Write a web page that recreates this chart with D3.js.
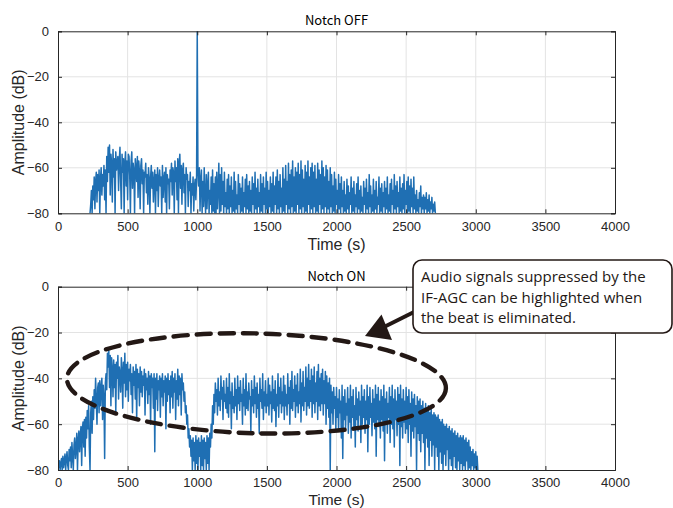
<!DOCTYPE html>
<html>
<head>
<meta charset="utf-8">
<script src="https://cdn.jsdelivr.net/npm/d3@7"></script>
<style>
  html, body { margin: 0; padding: 0; background: #fff; }
  svg { display: block; }
</style>
</head>
<body>
<svg id="chart" width="673" height="508"></svg>
<script>
// ---------------- DATA ----------------
const xTicks = [0, 500, 1000, 1500, 2000, 2500, 3000, 3500, 4000];
const yTicks = [0, -20, -40, -60, -80];
const titles = ["Notch OFF", "Notch ON"];
const xLabel = "Time (s)";
const yLabel = "Amplitude (dB)";
const annotationLines = ["Audio signals suppressed by the", "IF-AGC can be highlighted when", "the beat is eliminated."];

// sampling grid (seconds)
const offStart = 230, onStart = 0, sampleStep = 5;

// Notch OFF amplitude (dB), one value per 5 s starting at 230 s
const notchOff = [
-80,-76,-70,-80,-68,-74,-64,-78,-66,-62,-75,-63,-70,-61,-80,-65,-60,-72,-63,-68,
-59,-74,-61,-80,-55,-66,-51,-62,-50,-72,-54,-58,-75,-52,-64,-56,-80,-53,-61,-58,
-55,-70,-57,-51,-66,-78,-54,-62,-56,-80,-58,-53,-68,-57,-74,-54,-55,-63,-80,-57,
-53,-69,-58,-61,-80,-56,-60,-66,-55,-73,-57,-62,-78,-59,-56,-67,-61,-80,-62,-64,
-58,-71,-63,-76,-60,-65,-80,-64,-59,-69,-62,-75,-66,-61,-80,-63,-70,-60,-77,-65,
-61,-68,-64,-80,-59,-73,-65,-62,-75,-60,-80,-63,-67,-65,-78,-61,-66,-58,-72,-60,
-62,-80,-57,-66,-60,-74,-56,-80,-58,-54,-69,-59,-76,-61,-58,-71,-63,-80,-60,-65,
-63,-77,-66,-70,-62,-80,-67,-72,-64,-79,-68,-65,-74,-66,0,-62,-68,-60,-79,-65,
-61,-80,-66,-77,-60,-72,-80,-63,-78,-68,-62,-80,-70,-76,-64,-80,-61,-79,-67,-80,
-64,-80,-62,-78,-69,-58,-80,-63,-79,-60,-76,-66,-80,-62,-77,-71,-80,-65,-78,-63,
-80,-68,-77,-64,-80,-70,-79,-62,-80,-66,-78,-72,-80,-63,-76,-67,-80,-69,-79,-64,
-80,-71,-77,-65,-80,-63,-78,-68,-80,-66,-79,-70,-80,-64,-76,-67,-80,-62,-78,-69,
-80,-65,-77,-71,-80,-63,-79,-67,-80,-64,-76,-69,-80,-62,-78,-66,-80,-70,-77,-64,
-80,-67,-79,-62,-80,-68,-76,-64,-80,-61,-78,-66,-80,-63,-77,-69,-80,-60,-79,-65,
-80,-59,-76,-66,-80,-58,-78,-63,-80,-61,-77,-57,-80,-64,-79,-60,-80,-62,-76,-58,
-80,-63,-78,-57,-80,-61,-77,-65,-80,-59,-79,-62,-80,-57,-76,-64,-80,-60,-78,-58,
-80,-62,-77,-59,-80,-65,-79,-58,-80,-61,-76,-63,-80,-57,-78,-60,-80,-64,-77,-59,
-80,-61,-78,-66,-80,-60,-77,-63,-80,-68,-79,-62,-80,-65,-76,-70,-80,-63,-78,-67,
-80,-64,-77,-70,-80,-66,-79,-72,-80,-65,-78,-68,-80,-71,-76,-64,-80,-69,-79,-66,
-80,-72,-77,-67,-80,-64,-78,-70,-80,-68,-79,-73,-80,-66,-76,-69,-80,-65,-78,-71,
-80,-63,-77,-68,-80,-72,-79,-65,-80,-70,-78,-66,-80,-73,-76,-64,-80,-69,-79,-67,
-80,-71,-77,-66,-80,-69,-78,-64,-80,-72,-79,-67,-80,-65,-76,-70,-80,-63,-78,-68,
-80,-66,-77,-71,-80,-64,-79,-69,-80,-67,-78,-63,-80,-70,-76,-66,-80,-64,-79,-68,
-80,-65,-77,-69,-80,-64,-78,-72,-80,-70,-79,-74,-80,-71,-77,-68,-80,-73,-78,-72,
-80,-73,-78,-71,-80,-74,-79,-72,-80,-75,-78,-73,-80,-76,-79,-75,-80
];

// Notch ON amplitude (dB), one value per 5 s starting at 0 s
const notchOn = [
-80,-78,-76,-80,-77,-75,-80,-74,-79,-76,-73,-80,-75,-72,-78,-80,-71,-76,-70,-79,
-68,-74,-80,-69,-66,-75,-70,-64,-80,-67,-63,-72,-65,-61,-78,-62,-59,-70,-58,-74,
-57,-66,-54,-62,-52,-70,-80,-55,-50,-64,-48,-58,-45,-53,-40,-50,-60,-44,-42,-55,
-41,-52,-44,-40,-58,-43,-48,-75,-42,-38,-45,-29,-35,-28,-44,-30,-52,-31,-36,-48,
-32,-44,-34,-55,-33,-40,-30,-49,-35,-38,-46,-31,-37,-53,-33,-42,-29,-48,-34,-45,
-33,-50,-36,-41,-34,-47,-38,-55,-35,-43,-37,-49,-34,-58,-36,-44,-38,-52,-35,-46,
-37,-48,-39,-43,-36,-56,-38,-45,-40,-51,-37,-47,-39,-60,-38,-44,-40,-53,-38,-72,
-40,-49,-38,-54,-41,-45,-39,-57,-40,-48,-38,-52,-41,-46,-39,-62,-40,-50,-38,-47,
-41,-55,-39,-48,-37,-53,-40,-46,-38,-58,-41,-49,-36,-52,-39,-47,-40,-56,-38,-45,
-42,-50,-46,-55,-52,-60,-56,-66,-62,-70,-65,-74,-67,-80,-66,-76,-68,-80,-65,-77,
-67,-80,-66,-74,-68,-80,-65,-78,-67,-80,-66,-75,-68,-80,-65,-77,-66,-80,-64,-70,
-60,-66,-52,-60,-47,-55,-42,-50,-45,-56,-40,-52,-46,-54,-39,-49,-44,-58,-41,-50,
-47,-53,-40,-55,-44,-57,-38,-51,-46,-62,-42,-53,-48,-55,-40,-52,-45,-58,-39,-51,
-44,-54,-41,-50,-47,-60,-40,-52,-45,-56,-38,-53,-46,-54,-42,-49,-48,-63,-41,-52,
-45,-55,-39,-51,-44,-57,-42,-53,-47,-64,-40,-50,-45,-53,-38,-58,-46,-52,-41,-55,
-47,-52,-40,-56,-43,-51,-46,-59,-39,-53,-45,-54,-41,-61,-47,-52,-38,-57,-44,-51,
-40,-55,-46,-52,-39,-58,-43,-52,-47,-56,-38,-51,-44,-60,-41,-53,-37,-54,-45,-50,
-39,-57,-43,-52,-38,-55,-46,-51,-36,-59,-42,-52,-37,-54,-44,-50,-35,-56,-40,-52,
-34,-53,-41,-50,-36,-57,-39,-51,-35,-55,-42,-50,-37,-58,-34,-52,-40,-54,-38,-51,
-36,-56,-41,-51,-37,-60,-39,-53,-42,-57,-40,-80,-43,-55,-46,-60,-44,-53,-48,-62,
-44,-57,-49,-63,-45,-55,-50,-66,-43,-75,-48,-58,-45,-62,-51,-56,-44,-64,-49,-59,
-43,-66,-48,-57,-45,-61,-52,-70,-44,-58,-49,-63,-46,-56,-50,-68,-43,-60,-48,-57,
-45,-64,-50,-58,-43,-72,-48,-60,-44,-57,-51,-65,-45,-59,-49,-62,-43,-74,-47,-58,
-44,-61,-50,-66,-45,-58,-48,-63,-43,-76,-49,-59,-46,-64,-51,-57,-44,-68,-48,-60,
-43,-62,-49,-70,-45,-58,-50,-65,-44,-60,-47,-78,-43,-61,-49,-66,-45,-59,-50,-64,
-44,-62,-48,-68,-45,-60,-51,-74,-46,-63,-49,-66,-47,-61,-52,-80,-48,-64,-50,-67,
-49,-72,-52,-64,-50,-68,-53,-80,-51,-66,-54,-70,-52,-78,-55,-67,-53,-74,-56,-69,
-55,-80,-56,-70,-57,-74,-56,-80,-58,-72,-59,-77,-58,-80,-60,-73,-61,-78,-60,-71,
-62,-80,-61,-75,-63,-78,-62,-80,-64,-74,-63,-79,-65,-80,-64,-76,-66,-80,-65,-77,
-66,-80,-65,-78,-67,-80,-66,-76,-68,-80,-67,-79,-70,-80,-72,-78,-71,-80,-73,-79,
-72,-80,-74,-80
];

// ---------------- DRAW ----------------
const svg = d3.select("#chart");
const lineColor = "#1f6fb3";
const axisColor = "#262626";
const gridColor = "#e3e3e3";

const x = d3.scaleLinear().domain([0, 4000]).range([58, 615]);

const panels = [
  { title: titles[0], values: notchOff, start: offStart, top: 31.3, bottom: 213.3, xlabOff: 37, xlabSize: 16 },
  { title: titles[1], values: notchOn, start: onStart, top: 286.7, bottom: 470, xlabOff: 34.5, xlabSize: 15.5 }
];

panels.forEach((p, pi) => {
  const y = d3.scaleLinear().domain([-80, 0]).range([p.bottom, p.top]);
  const g = svg.append("g");
  const clipId = "clip" + pi;
  svg.append("clipPath").attr("id", clipId)
    .append("rect").attr("x", x(0)).attr("y", p.top)
    .attr("width", x(4000) - x(0)).attr("height", p.bottom - p.top);

  // grid
  g.append("g").selectAll("line").data(xTicks.slice(1, -1)).join("line")
    .attr("x1", d => x(d)).attr("x2", d => x(d))
    .attr("y1", p.top).attr("y2", p.bottom)
    .attr("stroke", gridColor).attr("stroke-width", 1);
  g.append("g").selectAll("line").data(yTicks.slice(1, -1)).join("line")
    .attr("y1", d => y(d)).attr("y2", d => y(d))
    .attr("x1", x(0)).attr("x2", x(4000))
    .attr("stroke", gridColor).attr("stroke-width", 1);

  // data line
  const pts = p.values.map((v, i) => [p.start + i * sampleStep, v]);
  g.append("path")
    .datum(pts)
    .attr("clip-path", `url(#${clipId})`)
    .attr("fill", "none")
    .attr("stroke", lineColor)
    .attr("stroke-width", 1.5)
    .attr("stroke-linejoin", "round")
    .attr("d", d3.line().x(d => x(d[0])).y(d => y(d[1])));

  // axes (box with inward ticks)
  const fmt = d => d < 0 ? "\u2212" + Math.abs(d) : String(d);
  const axB = d3.axisBottom(x).tickValues(xTicks).tickSize(-4).tickPadding(8).tickFormat(fmt);
  const axT = d3.axisTop(x).tickValues(xTicks).tickSize(-4).tickFormat("");
  const axL = d3.axisLeft(y).tickValues(yTicks).tickSize(-4).tickPadding(9).tickFormat(fmt);
  const axR = d3.axisRight(y).tickValues(yTicks).tickSize(-4).tickFormat("");

  const styleAxis = (sel) => {
    sel.select(".domain").attr("stroke", axisColor).attr("stroke-width", 1);
    sel.selectAll(".tick line").attr("stroke", axisColor);
    sel.selectAll("text").attr("fill", "#262626")
      .style("font-family", "'Liberation Sans', Arial, sans-serif")
      .style("font-size", "13px");
  };
  g.append("g").attr("transform", `translate(0,${p.top})`).call(axT).call(styleAxis);
  g.append("g").attr("transform", `translate(${x(4000)},0)`).call(axR).call(styleAxis);
  g.append("g").attr("transform", `translate(0,${p.bottom})`).call(axB).call(styleAxis);
  g.append("g").attr("transform", `translate(${x(0)},0)`).call(axL).call(styleAxis);

  // title
  g.append("text")
    .attr("x", (x(0) + x(4000)) / 2).attr("y", p.top - 6)
    .attr("text-anchor", "middle")
    .style("font-family", "'Noto Sans CJK JP', sans-serif")
    .style("font-size", "13px").attr("fill", "#000")
    .text(p.title);

  // x label
  g.append("text")
    .attr("x", (x(0) + x(4000)) / 2).attr("y", p.bottom + p.xlabOff)
    .attr("text-anchor", "middle")
    .style("font-family", "'Liberation Sans', Arial, sans-serif")
    .style("font-size", p.xlabSize + "px").attr("fill", "#262626")
    .text(xLabel);

  // y label
  g.append("text")
    .attr("transform", `translate(24,${(p.top + p.bottom) / 2}) rotate(-90)`)
    .attr("text-anchor", "middle")
    .style("font-family", "'Liberation Sans', Arial, sans-serif")
    .style("font-size", "16px").attr("fill", "#262626")
    .text(yLabel);

  // annotation on lower panel
  if (pi === 1) {
    // dashed ellipse in data units
    const cx = x(1425), cy = y(-42.2);
    const rx = x(1425 + 1361) - x(1425), ry = y(-42.2) - y(-42.2 + 21.8);
    svg.append("ellipse")
      .attr("cx", cx).attr("cy", cy).attr("rx", rx).attr("ry", ry)
      .attr("transform", `rotate(1.5,${cx},${cy})`)
      .attr("fill", "none").attr("stroke", "#231815")
      .attr("stroke-width", 4.4)
      .attr("stroke-dasharray", "14,9")
      .attr("stroke-linecap", "round");

    // arrow
    svg.append("line")
      .attr("x1", 414).attr("y1", 312).attr("x2", 384).attr("y2", 327)
      .attr("stroke", "#231815").attr("stroke-width", 4);
    svg.append("path")
      .attr("d", "M365,336 L381.5,314.5 L392,340 Z")
      .attr("fill", "#231815");

    // callout box
    svg.append("rect")
      .attr("x", 413).attr("y", 260).attr("width", 259).attr("height", 73)
      .attr("rx", 9).attr("ry", 9)
      .attr("fill", "#fff").attr("stroke", "#231815").attr("stroke-width", 1.6);
    const t = svg.append("text")
      .style("font-family", "'Open Sans', sans-serif")
      .style("font-size", "15px").attr("fill", "#231815");
    annotationLines.forEach((s, i) => {
      t.append("tspan").attr("x", 421).attr("y", 282 + i * 20.5).text(s);
    });
  }
});
</script>
</body>
</html>
